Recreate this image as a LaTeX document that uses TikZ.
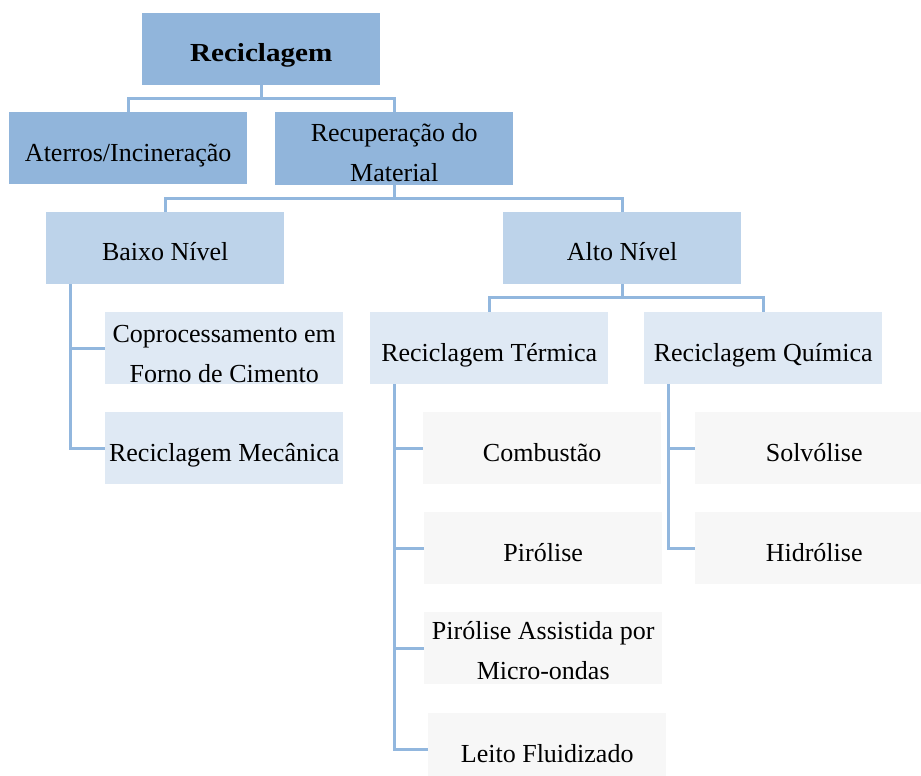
\documentclass[tikz,border=0pt]{standalone}
\usepackage{fontspec}
\setmainfont{Liberation Serif}
\definecolor{cone}{RGB}{145,181,219}
\definecolor{ctwo}{RGB}{189,211,234}
\definecolor{cthree}{RGB}{223,233,244}
\definecolor{cfour}{RGB}{247,247,247}
\definecolor{cline}{RGB}{146,183,222}
\newcommand{\twolines}[2]{\begin{tabular}[t]{@{}c@{}}#1\\#2\end{tabular}}
\tikzset{
  box/.style={anchor=north west, inner sep=0pt, minimum width=238bp, minimum height=72bp,
    text height=49bp, text depth=23bp, text=black, font=\fontsize{26bp}{40bp}\selectfont},
  dbl/.style={text height=29bp, text depth=43bp},
  lone/.style={box, fill=cone},
  ltwo/.style={box, fill=ctwo},
  lthree/.style={box, fill=cthree},
  lfour/.style={box, fill=cfour},
  conn/.style={draw=cline, line width=3bp}
}
\begin{document}
\begin{tikzpicture}[x=1bp,y=-1bp]
\useasboundingbox (0,0) rectangle (921,776);
\node[lone, text height=48bp, text depth=24bp] (reci) at (142,13) {\scalebox{1.12}[1]{\textbf{Reciclagem}}};
\node[lone] (ater) at (9,112) {Aterros/Incineração};
\node[lone, dbl, minimum height=73bp] (recu) at (275,112) {\twolines{Recuperação do}{Material}};
\node[ltwo, text height=48bp, text depth=24bp] (baixo) at (46,212) {Baixo Nível};
\node[ltwo, text height=48bp, text depth=24bp] (alto) at (503,212) {Alto Nível};
\node[lthree, dbl, text height=30bp, text depth=42bp] (copro) at (105,312) {\twolines{Coprocessamento em}{Forno de Cimento}};
\node[lthree] (mec) at (105,412) {Reciclagem Mecânica};
\node[lthree] (term) at (370,312) {Reciclagem Térmica};
\node[lthree] (quim) at (644,312) {Reciclagem Química};
\node[lfour] (comb) at (423,412) {Combustão};
\node[lfour] (piro) at (424,512) {Pirólise};
\node[lfour, dbl, text height=27bp, text depth=45bp] (micro) at (424,612) {\twolines{Pirólise Assistida por}{Micro-ondas}};
\node[lfour] (leito) at (428,713) {Leito Fluidizado};
\node[lfour] (solv) at (695,412) {Solvólise};
\node[lfour] (hidro) at (695,512) {Hidrólise};
% connectors
\draw[conn] (reci.south) -- ++(0,13) -| (ater.north);
\draw[conn] (reci.south) -- ++(0,13) -| (recu.north);
\draw[conn] (recu.south) -- ++(0,13) -| (baixo.north);
\draw[conn] (recu.south) -- ++(0,13) -| (alto.north);
\draw[conn] (alto.south) -- ++(0,13.5) -| (term.north);
\draw[conn] (alto.south) -- ++(0,13.5) -| (quim.north);
\draw[conn] ([xshift=24bp]baixo.south west) |- (copro.west);
\draw[conn] ([xshift=24bp]baixo.south west) |- (mec.west);
\draw[conn] ([xshift=24bp]term.south west) |- (comb.west);
\draw[conn] ([xshift=24bp]term.south west) |- (piro.west);
\draw[conn] ([xshift=24bp]term.south west) |- (micro.west);
\draw[conn] ([xshift=24bp]term.south west) |- (leito.west);
\draw[conn] ([xshift=24bp]quim.south west) |- (solv.west);
\draw[conn] ([xshift=24bp]quim.south west) |- (hidro.west);
\end{tikzpicture}
\end{document}
